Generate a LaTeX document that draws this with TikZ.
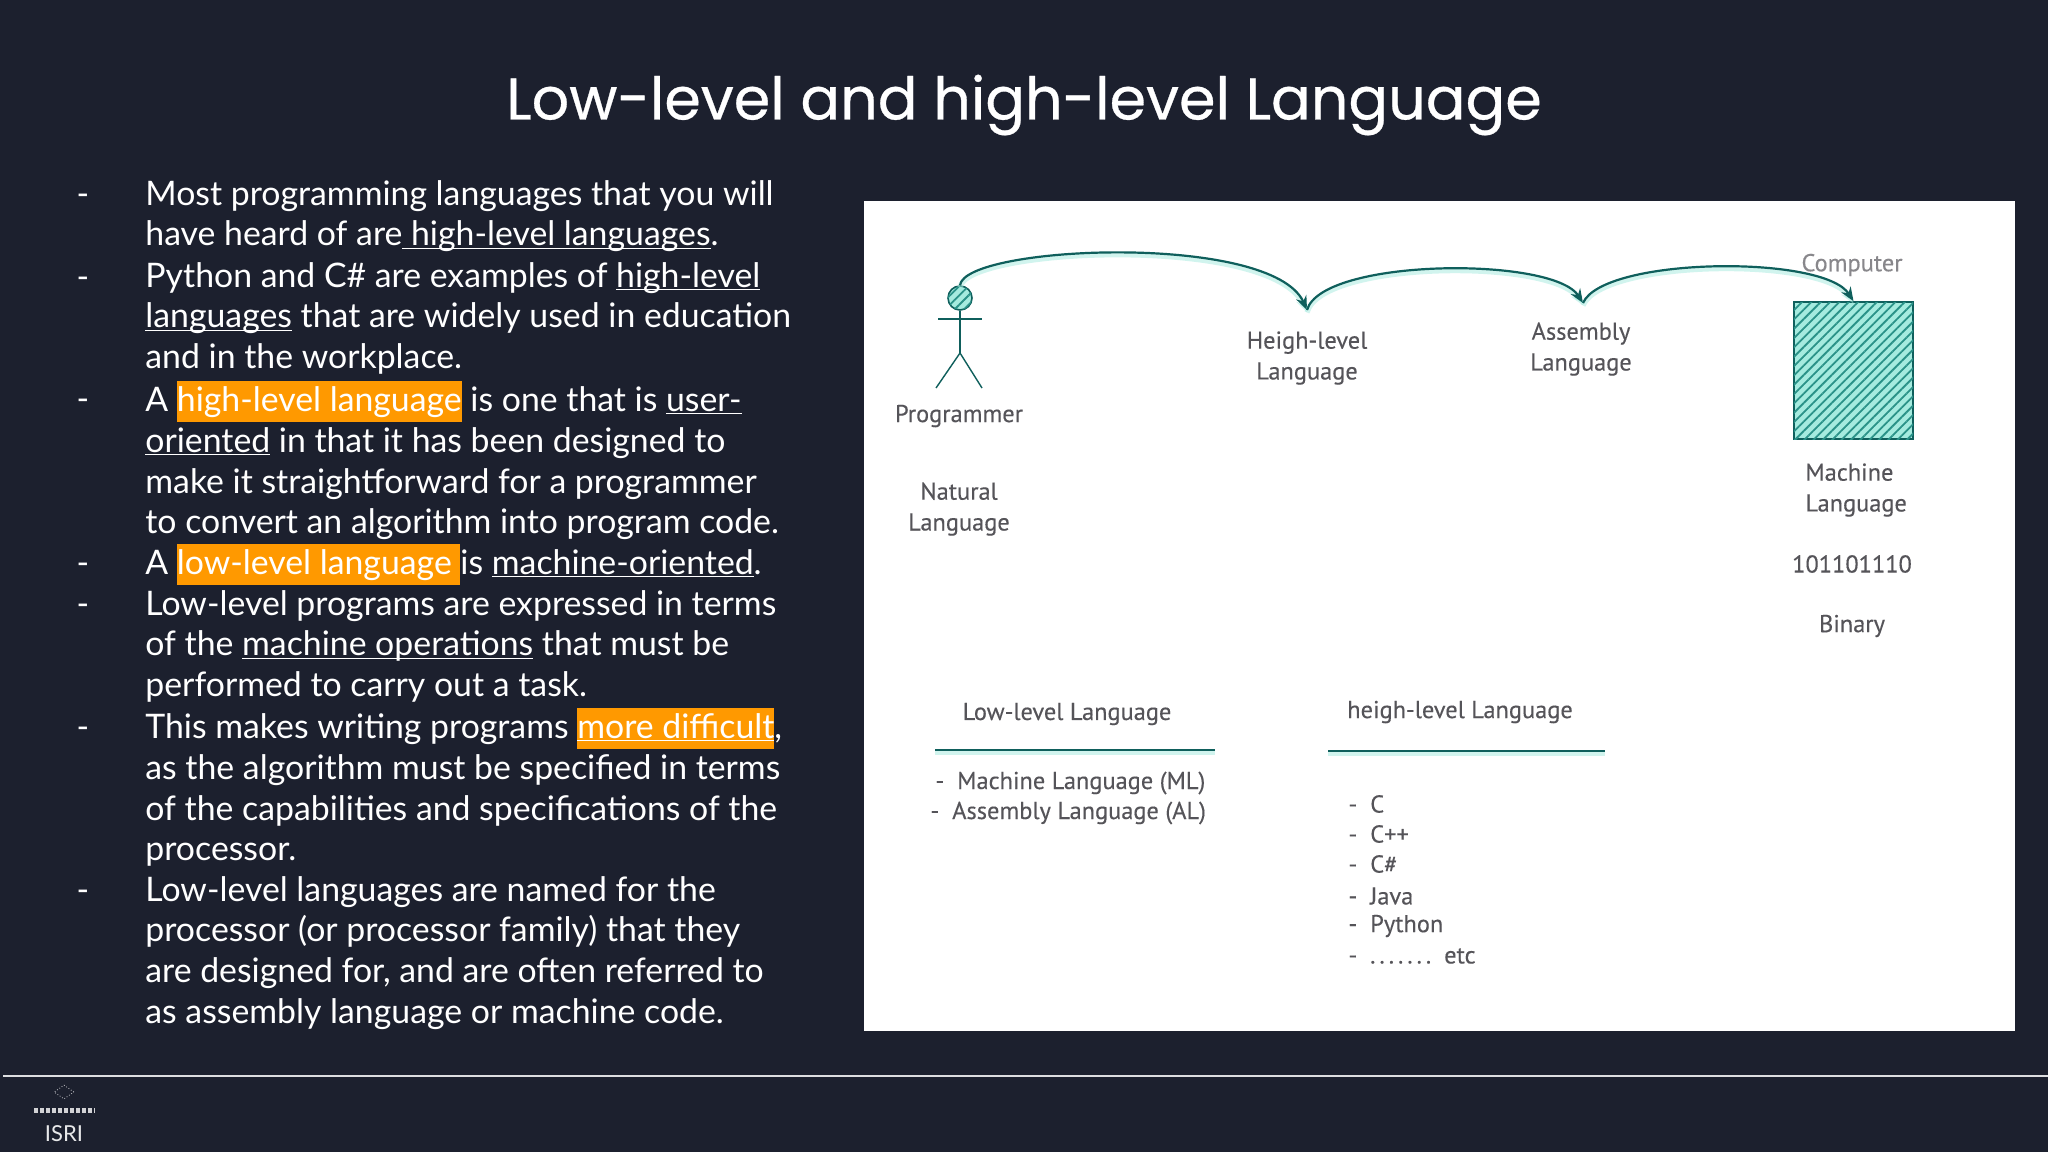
\documentclass[tikz,border=0pt]{standalone}
\usepackage{fontspec}
\setmainfont{Lato}
\newfontfamily\titlefont[FakeBold=0.5]{Poppins}
\newfontfamily\handfont[FakeBold=0.25]{PT Sans}
\usetikzlibrary{patterns.meta,shapes.geometric,arrows.meta}
\definecolor{pagebg}{HTML}{1C202E}
\definecolor{marker}{HTML}{FF9900}
\definecolor{inkteal}{HTML}{0F5F5C}
\definecolor{hatchteal}{HTML}{2A9288}
\definecolor{lightteal}{HTML}{A5EBDF}
\definecolor{handgray}{HTML}{555459}
\newsavebox{\markbox}
% underline that sits close to the baseline
\newcommand{\ulined}[1]{\sbox{\markbox}{#1}\rlap{\rule[-1.6pt]{\wd\markbox}{0.7pt}}\usebox{\markbox}}
% orange marker behind a phrase
\newcommand{\marked}[1]{\sbox{\markbox}{#1}\rlap{\textcolor{marker}{\rule[-5.6pt]{\wd\markbox}{20.5pt}}}\usebox{\markbox}}
\tikzset{
  bodytext/.style={anchor=north west,inner sep=0pt,align=left,text=white,font=\fontsize{16.9}{20.46}\selectfont},
  dashmark/.style={inner sep=0pt,text=white,font=\fontsize{16.9}{20.46}\selectfont},
  handtext/.style={inner sep=0pt,align=center,text=handgray,font=\handfont\fontsize{12.2}{15.4}\selectfont},
  handitem/.style={handtext,anchor=west},
  inkline/.style={draw=inkteal,line width=1.1pt,preaction={draw=lightteal,line width=2.6pt,opacity=.5,transform canvas={yshift=-1.2pt}}},
  inkarrow/.style={inkline,-{Stealth[length=7pt,width=5.5pt]}},
  hatched/.style={draw=inkteal,line width=0.8pt,fill=lightteal,postaction={pattern={Lines[angle=45,distance=3.3pt,line width=0.9pt]},pattern color=hatchteal}}
}
\begin{document}
\begin{tikzpicture}[x=0.5pt,y=-0.5pt]
  \fill[pagebg] (0,0) rectangle (2048,1152);
  \useasboundingbox (0,0) rectangle (2048,1152);
  % title and footer
  \node[inner sep=0pt,text=white,font=\titlefont\fontsize{29.4}{36}\selectfont] (title) at (1024,105) {Low-level and high-level Language};
  \coordinate (ruleL) at (3,1076);
  \coordinate (ruleR) at (2048,1076);
  \draw[white!85!pagebg,line width=0.7pt] (ruleL) -- (ruleR);
  \node[draw=white!75!pagebg,densely dotted,diamond,inner sep=0pt,minimum width=10pt,minimum height=7pt] (logomark) at (64,1092) {};
  \coordinate (logoL) at (34,1110);
  \coordinate (logoR) at (95,1110);
  \draw[white!80!pagebg,line width=2.5pt,dash pattern=on 2pt off 1pt] (logoL) -- (logoR);
  \node[inner sep=0pt,text=white!90!pagebg,font=\fontsize{11}{12}\selectfont] (logotext) at (64,1134) {ISRI};
  % left-hand text
  \foreach \n/\y in {1/200,2/283,3/405,4/569,5/610,6/733,7/896}
    \node[dashmark] (dash\n) at (83,\y) {-};
  \node[bodytext] (para1) at (145,176) {\strut Most programming languages that you will\\
    have heard of are\ulined{ high-level languages}.};
  \node[bodytext] (para2) at (145,258) {\strut Python and C\# are examples of \ulined{high-level}\\
    \ulined{languages} that are widely used in education\\
    and in the workplace.};
  \node[bodytext] (para3) at (145,381) {\strut A \marked{high-level language} is one that is \ulined{user-}\\
    \ulined{oriented} in that it has been designed to\\
    make it straightforward for a programmer\\
    to convert an algorithm into program code.};
  \node[bodytext] (para4) at (145,544) {\strut A \marked{low-level language\ }is \ulined{machine-oriented}.};
  \node[bodytext] (para5) at (145,586) {\strut Low-level programs are expressed in terms\\
    of the \ulined{machine operations} that must be\\
    performed to carry out a task.};
  \node[bodytext] (para6) at (145,708) {\strut This makes writing programs \marked{\ulined{more difficult}},\\
    as the algorithm must be specified in terms\\
    of the capabilities and specifications of the\\
    processor.};
  \node[bodytext] (para7) at (145,872) {\strut Low-level languages are named for the\\
    processor (or processor family) that they\\
    are designed for, and are often referred to\\
    as assembly language or machine code.};
  % right-hand panel
  \fill[white] (864,201) rectangle (2015,1031);
  \node[hatched,circle,inner sep=0pt,minimum size=12pt] (head) at (960,298) {};
  \coordinate (armL)  at (938,319);
  \coordinate (armR)  at (982,319);
  \coordinate (hip)   at (960,353);
  \coordinate (footL) at (936,388);
  \coordinate (footR) at (982,388);
  \draw[draw=inkteal,line width=0.7pt] (head) -- (hip);
  \draw[draw=inkteal,line width=0.7pt] (armL) -- (armR);
  \draw[draw=inkteal,line width=0.7pt] (footL) -- (hip) -- (footR);
  \node[hatched,inner sep=0pt,minimum width=59.5pt,minimum height=68.5pt] (computer) at (1853.5,370.5) {};
  \coordinate (highTip) at (1307,310);
  \coordinate (asmTip)  at (1583,303);
  \draw[inkarrow] (head.north) .. controls +(5,-40) and +(-35,-78) .. (highTip);
  \draw[inkarrow] (highTip) .. controls +(15,-52) and +(-30,-47) .. (asmTip);
  \draw[inkarrow] (asmTip) .. controls +(20,-46) and +(-30,-47) .. (computer.north);
  \node[handtext] (programmer) at (959,416) {Programmer};
  \node[handtext] (natural)    at (959,509) {Natural\\Language};
  \node[handtext] (highlevel)  at (1307,358) {Heigh-level\\Language};
  \node[handtext] (assembly)   at (1581,349) {Assembly\\Language};
  \node[handtext,text=handgray!70] (computerlabel) at (1852,265) {Computer};
  \node[handtext,align=left,anchor=west] (machine) at (1805,490) {Machine\\Language};
  \node[handtext] (binarycode) at (1852,564) {101101110};
  \node[handtext] (binary)     at (1852,626) {Binary};
  % the two lists
  \node[handtext] (lowhead)  at (1067,714) {Low-level Language};
  \node[handtext] (highhead) at (1460,712) {heigh-level Language};
  \coordinate (lowL)  at (935,750);
  \coordinate (lowR)  at (1215,750);
  \coordinate (highL) at (1328,751);
  \coordinate (highR) at (1605,751);
  \draw[inkline] (lowL) -- (lowR);
  \draw[inkline] (highL) -- (highR);
  \node[handitem] (lowA) at (935,783) {-\ \ Machine Language (ML)};
  \node[handitem] (lowB) at (930,813) {-\ \ Assembly Language (AL)};
  \node[handitem] (itemA) at (1348,804) {-\ \ C};
  \node[handitem] (itemB) at (1348,834) {-\ \ C++};
  \node[handitem] (itemC) at (1348,864) {-\ \ C\#};
  \node[handitem] (itemD) at (1348,896) {-\ \ Java};
  \node[handitem] (itemE) at (1348,926) {-\ \ Python};
  \node[handitem] (itemF) at (1348,956) {-\ \ .\,.\,.\,.\,.\,.\,.\ \ etc};
\end{tikzpicture}
\end{document}
